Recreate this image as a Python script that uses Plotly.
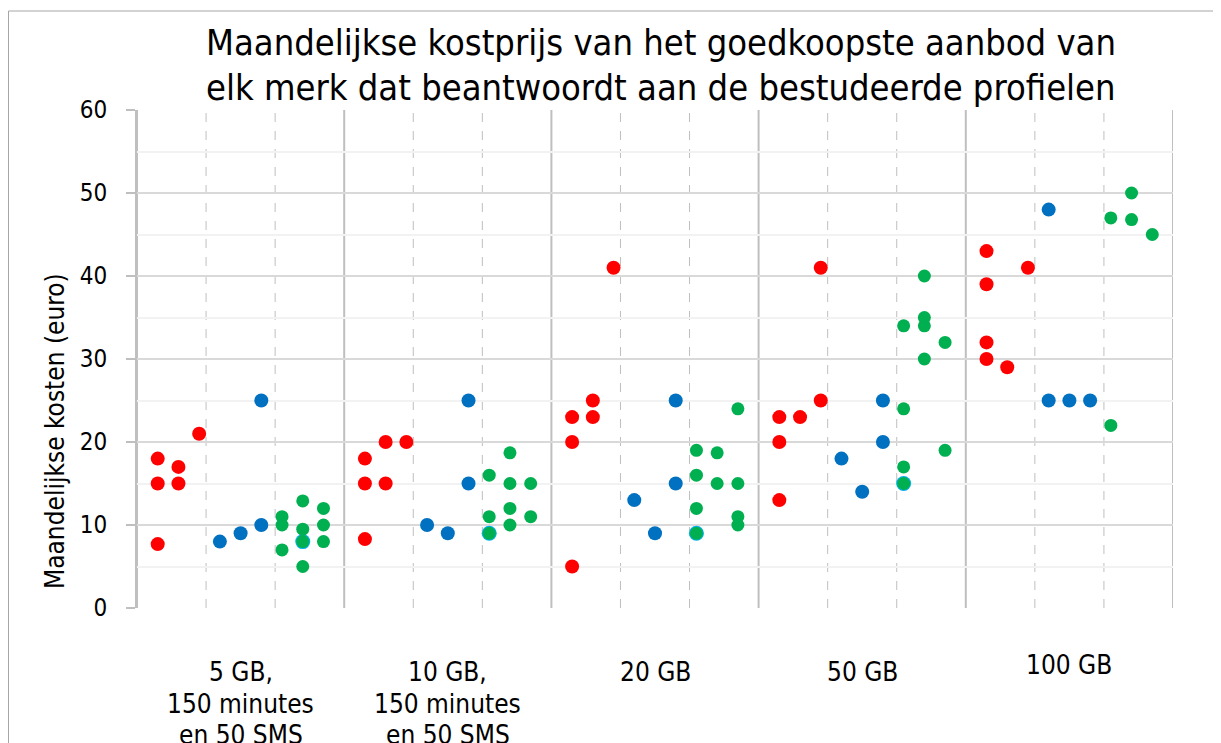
import plotly.graph_objects as go

# ---------------- data ----------------
categories = ["5 GB,<br>150 minutes<br>en 50 SMS", "10 GB,<br>150 minutes<br>en 50 SMS",
              "20 GB", "50 GB", "100 GB"]
y_ticks = [0, 10, 20, 30, 40, 50, 60]
title_lines = ["Maandelijkse kostprijs van het goedkoopste aanbod van",
               "elk merk dat beantwoordt aan de bestudeerde profielen"]
y_title = "Maandelijkse kosten (euro)"

# red series: category index, slot within category (1..9), monthly cost
red_cat = [0, 0, 0, 0, 0, 0,  1, 1, 1, 1, 1, 1,  2, 2, 2, 2, 2, 2,  3, 3, 3, 3, 3, 3,  4, 4, 4, 4, 4, 4]
red_slot = [1, 1, 1, 2, 2, 3,  1, 1, 1, 2, 2, 3,  1, 1, 1, 2, 2, 3,  1, 1, 1, 2, 3, 3,  1, 1, 1, 1, 2, 3]
red_cost = [18, 15, 7.7, 17, 15, 21,  18, 15, 8.3, 20, 15, 20,  23, 20, 5, 25, 23, 41,
            23, 20, 13, 23, 41, 25,  43, 39, 32, 30, 29, 41]

# blue series
blue_cat = [0, 0, 0, 0,  1, 1, 1, 1,  2, 2, 2, 2,  3, 3, 3, 3,  4, 4, 4, 4]
blue_slot = [4, 5, 6, 6,  4, 5, 6, 6,  4, 5, 6, 6,  4, 5, 6, 6,  4, 4, 5, 6]
blue_cost = [8, 9, 25, 10,  10, 9, 25, 15,  13, 9, 25, 15,  18, 14, 25, 20,  48, 25, 25, 25]

# light-blue series (hidden under green points)
cyan_cat = [0, 1, 2, 3]
cyan_slot = [8, 7, 7, 7]
cyan_cost = [8, 9, 9, 15]

# green series
green_cat = [0, 0, 0, 0, 0, 0, 0, 0, 0, 0,
             1, 1, 1, 1, 1, 1, 1, 1, 1,
             2, 2, 2, 2, 2, 2, 2, 2, 2, 2,
             3, 3, 3, 3, 3, 3, 3, 3, 3, 3,
             4, 4, 4, 4, 4]
green_slot = [7, 7, 7, 8, 8, 8, 8, 9, 9, 9,
              7, 7, 7, 8, 8, 8, 8, 9, 9,
              7, 7, 7, 7, 8, 8, 9, 9, 9, 9,
              7, 7, 7, 7, 8, 8, 8, 8, 9, 9,
              7, 7, 8, 8, 9]
green_cost = [11, 10, 7, 12.9, 9.5, 8, 5, 12, 10, 8,
              16, 11, 9, 18.7, 15, 12, 10, 15, 11,
              19, 16, 12, 9, 18.7, 15, 24, 15, 11, 10,
              34, 24, 17, 15, 40, 35, 34, 30, 32, 19,
              47, 22, 50, 46.8, 45]

CAT_W = 10  # x-units per category

def xs(cats, slots):
    return [c * CAT_W + s for c, s in zip(cats, slots)]

FONT = "DejaVu Sans Condensed, DejaVu Sans, sans-serif"

# geometry (window pixels; page body has an 8px margin)
PL, PR, PT, PB = 137, 1173, 110, 608
PW, PH = PR - PL, PB - PT

def px_x(x):
    return (x - PL) / PW

def px_y(y):
    return (PB - y) / PH

fig = go.Figure()
fig.add_trace(go.Scatter(x=xs(red_cat, red_slot), y=red_cost, mode="markers",
                         marker=dict(color="#FF0000", size=14, line=dict(width=0)), showlegend=False))
fig.add_trace(go.Scatter(x=xs(blue_cat, blue_slot), y=blue_cost, mode="markers",
                         marker=dict(color="#0070C0", size=14, line=dict(width=0)), showlegend=False))
fig.add_trace(go.Scatter(x=xs(cyan_cat, cyan_slot), y=cyan_cost, mode="markers",
                         marker=dict(color="#00B0F0", size=15, line=dict(width=0)), showlegend=False))
fig.add_trace(go.Scatter(x=xs(green_cat, green_slot), y=green_cost, mode="markers",
                         marker=dict(color="#00B050", size=13, line=dict(width=0)), showlegend=False))

shapes = []
ncat = len(categories)
for k in range(ncat + 1):
    shapes.append(dict(type="line", xref="x", yref="paper", x0=k * CAT_W, x1=k * CAT_W, y0=0, y1=1,
                       line=dict(color="#BFBFBF", width=2), layer="below"))
for k in range(ncat):
    for f in (1 / 3, 2 / 3):
        xv = k * CAT_W + f * CAT_W
        shapes.append(dict(type="line", xref="x", yref="paper", x0=xv, x1=xv, y0=0, y1=1,
                           line=dict(color="#BFBFBF", width=1, dash="dash"), layer="below"))
# outer chart border
shapes.append(dict(type="rect", xref="paper", yref="paper",
                   x0=px_x(8.5), x1=px_x(1218), y0=px_y(800), y1=px_y(11),
                   line=dict(color="#A6A6A6", width=1), fillcolor="rgba(0,0,0,0)", layer="below"))

annotations = []
# category labels, one annotation per line
cat_first_center = [672, 672, 672, 672, 665]
LINE_GAP = 31.5
for k, lab in enumerate(categories):
    for i, line in enumerate(lab.split("<br>")):
        annotations.append(dict(text=line, x=k * CAT_W + CAT_W / 2, xref="x",
                                y=px_y(cat_first_center[k] + i * LINE_GAP), yref="paper",
                                yanchor="middle", showarrow=False,
                                font=dict(family=FONT, size=26, color="#000000")))
# y axis title
annotations.append(dict(text=y_title, textangle=-90,
                        x=px_x(55), xref="paper", y=px_y(431), yref="paper",
                        xanchor="center", yanchor="middle", showarrow=False,
                        font=dict(family=FONT, size=26, color="#000000")))
# chart title lines
for i, line in enumerate(title_lines):
    annotations.append(dict(text=line, x=px_x(661), xref="paper", y=px_y(20 + i * 45), yref="paper",
                            xanchor="center", yanchor="top", showarrow=False,
                            font=dict(family=FONT, size=36, color="#000000")))

fig.update_layout(
    width=1213, height=735,
    margin=dict(l=PL - 8, r=1213 - (PR - 8), t=PT - 8, b=735 - (PB - 8)),
    paper_bgcolor="white", plot_bgcolor="white",
    font=dict(family=FONT, color="#000000"),
    shapes=shapes, annotations=annotations,
    xaxis=dict(range=[0, ncat * CAT_W], showgrid=False, zeroline=False, showticklabels=False,
               ticks="", showline=False, fixedrange=True),
    yaxis=dict(range=[0, 60], tickvals=y_ticks, ticktext=[str(v) for v in y_ticks],
               showgrid=True, gridcolor="#D9D9D9", gridwidth=2,
               minor=dict(dtick=5, showgrid=True, gridcolor="#F2F2F2", gridwidth=2),
               zeroline=False, ticks="outside", ticklen=9, tickcolor="#BFBFBF", tickwidth=2,
               showline=True, linecolor="#BFBFBF", linewidth=2,
               tickfont=dict(family=FONT, size=24, color="#000000"), ticklabelstandoff=14),
)

fig.write_html("out.html")
